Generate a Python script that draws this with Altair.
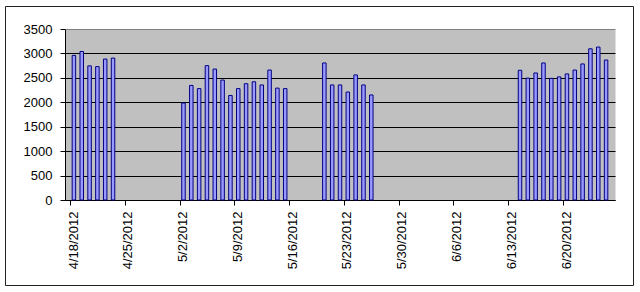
import altair as alt
import pandas as pd

# ---- data ----
dates = [
    "2012-04-18", "2012-04-19", "2012-04-20", "2012-04-21", "2012-04-22", "2012-04-23",
    "2012-05-02", "2012-05-03", "2012-05-04", "2012-05-05", "2012-05-06", "2012-05-07",
    "2012-05-08", "2012-05-09", "2012-05-10", "2012-05-11", "2012-05-12", "2012-05-13",
    "2012-05-14", "2012-05-15",
    "2012-05-20", "2012-05-21", "2012-05-22", "2012-05-23", "2012-05-24", "2012-05-25",
    "2012-05-26",
    "2012-06-14", "2012-06-15", "2012-06-16", "2012-06-17", "2012-06-18", "2012-06-19",
    "2012-06-20", "2012-06-21", "2012-06-22", "2012-06-23", "2012-06-24", "2012-06-25",
]
values = [
    2960, 3040, 2745, 2730, 2885, 2905,
    1985, 2345, 2280, 2750, 2680, 2455,
    2140, 2280, 2380, 2420, 2355, 2660,
    2290, 2280,
    2805, 2355, 2355, 2210, 2560, 2355,
    2150,
    2655, 2495, 2600, 2805, 2490, 2520,
    2580, 2660, 2785, 3095, 3130, 2865,
]
y_ticks = [0, 500, 1000, 1500, 2000, 2500, 3000, 3500]
x_tick_dates = [(4, 18), (4, 25), (5, 2), (5, 9), (5, 16), (5, 23),
                (5, 30), (6, 6), (6, 13), (6, 20)]
x_start = (4, 18)
x_end = (6, 26)

df = pd.DataFrame({"date": dates, "value": values})

FONT = "Liberation Sans"

def dt(md):
    return alt.DateTime(year=2012, month=md[0], date=md[1], utc=True)

bars = alt.Chart(df).transform_calculate(
    # centre each column in the middle of its day slot
    mid="toDate(datum.date) + 43200000"
).mark_bar(
    fill="#9999FF", stroke="#000080", strokeWidth=1, size=3.5
).encode(
    x=alt.X(
        "mid:T",
        scale=alt.Scale(domain=[dt(x_start), dt(x_end)], nice=False),
        axis=alt.Axis(
            values=[dt(d) for d in x_tick_dates],
            labelExpr="utcFormat(datum.value, '%-m/%-d/%Y')",
            labelAngle=-90,
            labelFontSize=13,
            labelFont=FONT,
            labelColor="black",
            labelOffset=3,
            labelPadding=6,
            tickSize=5,
            tickColor="black",
            domainColor="black",
            grid=False,
            title=None,
        ),
    ),
    y=alt.Y(
        "value:Q",
        scale=alt.Scale(domain=[0, 3500], nice=False),
        axis=alt.Axis(
            values=y_ticks,
            format="d",
            labelFontSize=13,
            labelFont=FONT,
            labelColor="black",
            labelPadding=8,
            tickSize=5,
            tickColor="black",
            domainColor="black",
            grid=True,
            gridColor=alt.condition("datum.value === 3500", alt.value("#808080"), alt.value("black")),
            gridOpacity=1,
            title=None,
        ),
    ),
)

frame = alt.Chart(alt.Data(values=[{}])).mark_rect(
    fill="transparent", stroke="#222222", strokeWidth=1, clip=False
).encode(
    x=alt.value(-59.5), x2=alt.value(568.5), y=alt.value(-22.5), y2=alt.value(256.5)
)

chart = alt.layer(bars, frame).properties(
    width=550,
    height=171,
    padding={"left": 65, "top": 29, "right": 25, "bottom": 92},
    autosize=alt.AutoSizeParams(type="none"),
    background="white",
).configure_view(
    fill="#C0C0C0", stroke="transparent"
)

chart.save("out.html", embed_options={"renderer": "svg", "actions": False})
